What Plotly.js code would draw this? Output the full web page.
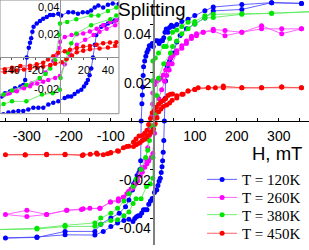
<!DOCTYPE html>
<html><head><meta charset="utf-8">
<script src="https://cdn.plot.ly/plotly-3.0.1.min.js"></script>
<style>html,body{margin:0;padding:0;background:#fff;overflow:hidden}#chart{width:309px;height:250px}</style>
</head><body><div id="chart"></div>
<script>
const seriesNames = ['T = 120K','T = 260K','T = 380K','T = 450K'];
const markerColors = ['#0000ff','#ff00ff','#00e600','#ff0000'];
const lineColors = ['rgba(70,70,255,0.85)','rgba(255,70,255,0.85)','rgba(90,235,90,0.85)','rgba(255,70,70,0.85)'];

// Field H (mT) and splitting, in measurement order (down branch then up branch)
const h120 = [354,283,212,144,124,100,84,69,57,49,44,40,36,32,29,26,23,19,15,11,7,1,-1.4,-5.6,-8.3,-11,-14,-16.7,-19.4,-22,-23,-24,-25,-26,-27.7,-29,-30.6,-33,-37.5,-41.7,-45.8,-48.6,-57,-65,-80,-100,-124,-138,-209,-276,-351,
  -276,-209,-138,-118,-100,-84,-69,-57,-47.2,-43,-38.9,-34.7,-30.6,-26.4,-22.2,-18,-13.9,-9.7,-5.6,-1.4,3.9,6.7,9.4,12.2,15,17.8,20,21.9,23.3,24.7,26.1,27.5,29,30.3,34.4,37.2,40,42.8,45.6,49.7,57,65,80,100,124,144,212,283,354];
const s120 = [.0485,.0488,.048,.047,.0455,.0435,.042,.041,.0398,.039,.0395,.0386,.0366,.0379,.0366,.0343,.0331,.0331,.032,.0331,.0331,.0307,.032,.031,.031,.0295,.0284,.0267,.0248,.0224,.0188,.014,.0107,.0071,0,-.0164,-.02,-.0212,-.0224,-.0248,-.026,-.0284,-.0326,-.0353,-.038,-.04,-.0425,-.0455,-.0455,-.048,-.0482,
  -.0478,-.0469,-.047,-.0455,-.0435,-.042,-.041,-.0405,-.0414,-.0402,-.0395,-.039,-.039,-.0379,-.0366,-.0366,-.0366,-.0343,-.033,-.0319,-.0295,-.0284,-.0284,-.0266,-.0248,-.0236,-.0212,-.0188,-.0164,-.0129,-.008,0,.0093,.0165,.0224,.0236,.0248,.026,.027,.028,.0326,.0353,.038,.04,.0425,.0454,.046,.0488,.0485];

const h260 = [354,307,259,212,172,144,120,104,92,80,69,57,47,42,36,30.6,25,19.4,14,9.7,4,0,-0.5,-2.8,-5.6,-8.3,-12,-16.7,-23.6,-30.6,-37.5,-44,-52,-62,-70,-82,-101,-126,-150,-170,-205,-253,-300,-351,
  -300,-253,-205,-166,-126,-101,-82,-70,-58,-47,-42,-36,-30,-25,-19,-14,-9.7,-4,0,4,8.3,14,21,28,33,39,46,57,69,80,92,104,120,144,172,212,259,307,354];
const s260 = [.038,.036,.0393,.0366,.0373,.0378,.0366,.036,.035,.033,.031,.029,.027,.026,.0235,.021,.019,.0176,.017,.0164,.015,.0116,.007,.002,-.0026,-.006,-.011,-.0157,-.019,-.0216,-.024,-.0264,-.028,-.03,-.0314,-.033,-.0334,-.036,-.036,-.0365,-.0368,-.0385,-.0394,-.0385,
  -.0368,-.0385,-.0368,-.0362,-.036,-.0334,-.032,-.0314,-.029,-.0275,-.026,-.0246,-.0225,-.021,-.019,-.0176,-.0164,-.015,-.0134,-.005,.002,.0093,.0129,.0164,.0188,.021,.0236,.028,.03,.032,.034,.0352,.0366,.0372,.0352,.0366,.038,.038,.038];

const h380 = [380,283,212,144,124,100,84,69,57,47,40,32,26,13.6,6,0,-0.5,-4,-8,-12,-17,-28,-40,-47,-57,-69,-84,-100,-124,-138,-209,-276,-380,
  -276,-209,-138,-124,-100,-84,-69,-57,-47,-40,-28,-15,-6,0,0.5,5,6.7,9.4,13.6,26,42,47,57,69,84,100,124,144,212,283,380];
const s380 = [.0452,.0444,.0442,.044,.0434,.041,.0407,.039,.0375,.0366,.034,.0307,.0307,.028,.026,.0248,.0166,-.002,-.008,-.012,-.015,-.02,-.024,-.027,-.03,-.033,-.036,-.038,-.04,-.042,-.043,-.0442,-.0448,
  -.0445,-.0435,-.0434,-.0425,-.041,-.0407,-.039,-.0375,-.034,-.032,-.032,-.027,-.026,-.0236,-.015,-.0014,.0034,.0105,.0176,.0236,.028,.0307,.033,.036,.038,.04,.0425,.0427,.044,.0444,.045];

const h450 = [354,307,259,212,168,149,132,108,100,84,72,57,47,41.7,36,30.6,25,19.4,14,8.3,4,-1.4,-5.6,-10,-14,-19.4,-25,-33,-40,-46,-62,-82,-101,-118,-134,-166,-209,-253,-304,-351,
  -304,-253,-209,-168,-149,-132,-108,-100,-84,-70,-57,-46,-40,-36,-30,-25,-19,-14,-8,-4,1.4,5.6,10,14,19.4,25,33,40,46,57,69,84,100,132,168,212,259,307,354];
const s450 = [.0137,.014,.0137,.0137,.0144,.0137,.0137,.0137,.013,.0124,.011,.0104,.0112,.011,.0105,.0093,.0085,.008,.0069,.0057,.0045,.0034,.001,-.0014,-.0038,-.005,-.006,-.0062,-.0074,-.0086,-.0105,-.0125,-.0132,-.0139,-.0132,-.0139,-.0139,-.0139,-.0139,-.0139,
  -.014,-.0137,-.0137,-.0142,-.0137,-.0137,-.0135,-.013,-.0122,-.011,-.0104,-.0105,-.0098,-.0094,-.0088,-.008,-.0075,-.0065,-.0055,-.0045,-.0034,-.001,.0014,.0038,.005,.006,.0066,.0074,.0086,.0095,.011,.0124,.013,.0137,.0137,.0137,.0137,.014,.0137];

const mainXTicks = [-350,-300,-250,-200,-150,-100,-50,50,100,150,200,250,300,350];
const mainXLabels = ['','-300','','-200','','-100','','','100','','200','','300',''];
const mainYTicks = [-0.04,-0.02,0.02,0.04];
const mainYLabels = ['-0.04','-0.02','0.02','0.04'];
const insetXTicks = [-50,-40,-30,-20,-10,10,20,30,40];
const insetXLabels = ['','-40','','-20','','','20','','40'];
const insetYTicks = [-0.02,0.02,0.04];
const insetYLabels = ['-0,02','0,02','0,04'];

const hs = [h120,h260,h380,h450];
const ss = [s120,s260,s380,s450];
const legendIds = ['legend','legend2','legend3','legend4'];
const legendRowY = [0.2668,0.1932,0.1228,0.0468];
const traces = [];
for (let i=0;i<4;i++){
  traces.push({x:hs[i],y:ss[i],type:'scatter',mode:'lines+markers',name:seriesNames[i],legend:legendIds[i],
    line:{color:lineColors[i],width:1},marker:{color:markerColors[i],size:5},
    xaxis:'x',yaxis:'y'});
}
for (let i=0;i<4;i++){
  traces.push({x:hs[i],y:ss[i],type:'scatter',mode:'lines+markers',name:seriesNames[i],showlegend:false,
    line:{color:lineColors[i],width:1},marker:{color:markerColors[i],size:4.5},
    xaxis:'x2',yaxis:'y2'});
}
const F = 'Arial, "Liberation Sans", sans-serif';
const annotations = [
  {text:'Splitting',xref:'paper',yref:'paper',x:0.4935,y:0.96,xanchor:'center',yanchor:'middle',showarrow:false,font:{size:19,family:F}},
  {text:'H, mT',xref:'paper',yref:'paper',x:0.8955,y:0.372,xanchor:'center',yanchor:'middle',showarrow:false,font:{size:18.5,family:F}}
];
mainYTicks.forEach((v,i)=>annotations.push({text:mainYLabels[i],xref:'paper',yref:'y',x:152.5/309,y:v,yshift:-10,
  xanchor:'right',yanchor:'middle',showarrow:false,font:{size:14,family:F}}));
insetYTicks.forEach((v,i)=>annotations.push({text:insetYLabels[i],xref:'paper',yref:'y2',x:61/309,y:v,yshift:-4,
  xanchor:'right',yanchor:'middle',showarrow:false,font:{size:11,family:F}}));

const layout = {
  width:309,height:250,margin:{l:0,r:0,t:0,b:0,pad:0},
  paper_bgcolor:'#fff',plot_bgcolor:'#fff',
  font:{family:F,color:'#000'},
  showlegend:true,
  xaxis:{domain:[0,1],range:[-364,372],anchor:'free',position:0.506,showline:true,linecolor:'#000',linewidth:1,
    ticks:'inside',ticklen:3,tickcolor:'#000',tickmode:'array',tickvals:mainXTicks,ticktext:mainXLabels,
    tickfont:{size:14,family:F},ticklabelstandoff:2,showgrid:false,zeroline:false,automargin:false},
  yaxis:{domain:[0,1],range:[-0.0511,0.0499],anchor:'free',position:0.4975,showline:true,linecolor:'#808080',linewidth:2,
    ticks:'outside',ticklen:3,tickcolor:'#000',tickmode:'array',tickvals:mainYTicks,showticklabels:false,
    showgrid:false,zeroline:false,automargin:false},
  xaxis2:{domain:[0,0.385],range:[-50,49.2],anchor:'free',position:0.766,showline:true,linecolor:'#909090',linewidth:1,
    ticks:'outside',ticklen:2,tickcolor:'#555',tickmode:'array',tickvals:insetXTicks,ticktext:insetXLabels,
    tickfont:{size:11,family:F},showgrid:false,zeroline:false,automargin:false},
  yaxis2:{domain:[0.536,1],range:[-0.041,0.042],anchor:'free',position:0.194,showline:true,linecolor:'#909090',linewidth:1,
    ticks:'',showticklabels:false,showgrid:false,zeroline:false,automargin:false},
  shapes:[{type:'rect',xref:'paper',yref:'paper',x0:0,x1:0.385,y0:0.536,y1:1,line:{color:'#909090',width:1}}],
  annotations:annotations
};
const legFont = {family:'"Liberation Serif","Times New Roman",serif',size:15,color:'#000'};
legendIds.forEach((id,i)=>{
  layout[id] = {x:0.654,y:legendRowY[i],xanchor:'left',yanchor:'middle',bgcolor:'rgba(0,0,0,0)',borderwidth:0,font:legFont};
});
Plotly.newPlot('chart',traces,layout,{displayModeBar:false,staticPlot:true});
</script></body></html>
